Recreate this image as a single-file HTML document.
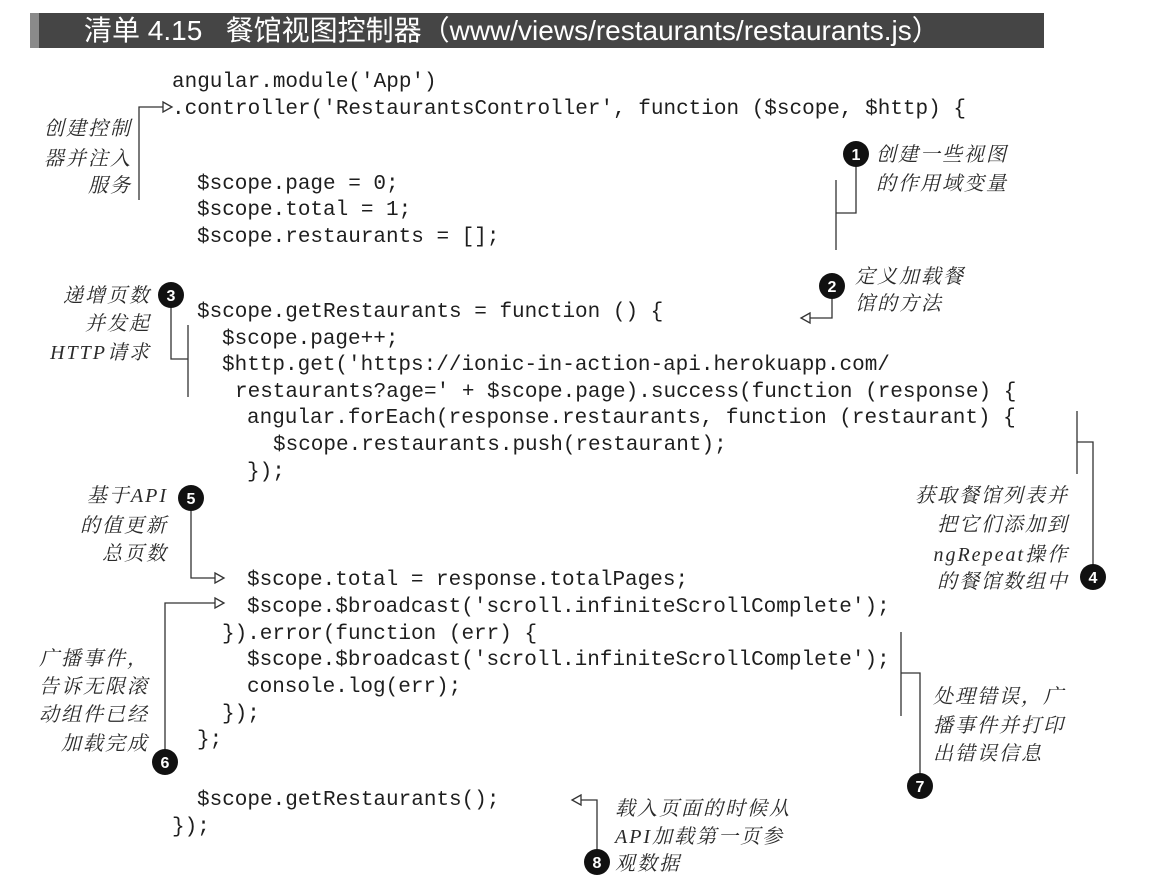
<!DOCTYPE html>
<html><head><meta charset="utf-8"><style>
html,body{margin:0;padding:0;background:#fff;}
svg{display:block;}
.c{font-family:"Liberation Mono",monospace;font-size:21px;fill:#1e1e1e;}
.h{font-family:"Liberation Serif","Noto Serif CJK SC",serif;font-size:20px;fill:#2a2a2a;font-style:italic;letter-spacing:2px;}
.n{font-family:"Liberation Sans",sans-serif;font-size:16px;font-weight:bold;fill:#fff;}
.l{stroke:#333;stroke-width:1.3;fill:none;}
.a{fill:#fff;stroke:#333;stroke-width:1.3;}
</style></head><body>
<svg width="1157" height="888" viewBox="0 0 1157 888" xmlns="http://www.w3.org/2000/svg">
<rect x="30" y="13" width="1014" height="35" fill="#454545"/>
<rect x="30" y="13" width="9" height="35" fill="#8a8a8a"/>
<text x="84" y="40" font-family="Liberation Sans,'Noto Sans CJK SC',sans-serif" font-size="28" fill="#fff" xml:space="preserve">清单 4.15   餐馆视图控制器（www/views/restaurants/restaurants.js）</text>

<g class="c" xml:space="preserve">
<text x="172" y="87">angular.module('App')</text>
<text x="172" y="114">.controller('RestaurantsController', function ($scope, $http) {</text>
<text x="197" y="189">$scope.page = 0;</text>
<text x="197" y="215">$scope.total = 1;</text>
<text x="197" y="242">$scope.restaurants = [];</text>
<text x="197" y="317">$scope.getRestaurants = function () {</text>
<text x="222" y="344">$scope.page++;</text>
<text x="222" y="370">$http.get('https://ionic-in-action-api.herokuapp.com/</text>
<text x="235" y="397">restaurants?age=' + $scope.page).success(function (response) {</text>
<text x="247" y="423">angular.forEach(response.restaurants, function (restaurant) {</text>
<text x="273" y="450">$scope.restaurants.push(restaurant);</text>
<text x="247" y="477">});</text>
<text x="247" y="585">$scope.total = response.totalPages;</text>
<text x="247" y="612">$scope.$broadcast('scroll.infiniteScrollComplete');</text>
<text x="222" y="639">}).error(function (err) {</text>
<text x="247" y="665">$scope.$broadcast('scroll.infiniteScrollComplete');</text>
<text x="247" y="692">console.log(err);</text>
<text x="222" y="719">});</text>
<text x="197" y="745">};</text>
<text x="197" y="805">$scope.getRestaurants();</text>
<text x="172" y="832">});</text>
</g>

<path class="l" d="M139 200 V107 H163"/>
<polygon class="a" points="163,102 172,107 163,112"/>
<path class="l" d="M856 160 V213 H836 M836 180 V250"/>
<path class="l" d="M832 292 V318 H810"/>
<polygon class="a" points="810,313 801,318 810,323"/>
<path class="l" d="M171 300 V359 H188 M188 325 V397"/>
<path class="l" d="M191 504 V578 H215"/>
<polygon class="a" points="215,573 224,578 215,583"/>
<path class="l" d="M165 756 V603 H215"/>
<polygon class="a" points="215,598 224,603 215,608"/>
<path class="l" d="M1093 571 V442 H1077 M1077 411 V474"/>
<path class="l" d="M920 780 V673 H901 M901 632 V716"/>
<path class="l" d="M597 856 V800 H581"/>
<polygon class="a" points="581,795 572,800 581,805"/>

<g>
<circle cx="856" cy="154" r="13" fill="#111"/><text class="n" x="856" y="160" text-anchor="middle">1</text>
<circle cx="832" cy="286" r="13" fill="#111"/><text class="n" x="832" y="292" text-anchor="middle">2</text>
<circle cx="171" cy="295" r="13" fill="#111"/><text class="n" x="171" y="301" text-anchor="middle">3</text>
<circle cx="1093" cy="577" r="13" fill="#111"/><text class="n" x="1093" y="583" text-anchor="middle">4</text>
<circle cx="191" cy="498" r="13" fill="#111"/><text class="n" x="191" y="504" text-anchor="middle">5</text>
<circle cx="165" cy="762" r="13" fill="#111"/><text class="n" x="165" y="768" text-anchor="middle">6</text>
<circle cx="920" cy="786" r="13" fill="#111"/><text class="n" x="920" y="792" text-anchor="middle">7</text>
<circle cx="597" cy="862" r="13" fill="#111"/><text class="n" x="597" y="868" text-anchor="middle">8</text>
</g>

<g class="h">
<text x="132" y="135" text-anchor="end">创建控制</text>
<text x="132" y="165" text-anchor="end">器并注入</text>
<text x="132" y="192" text-anchor="end">服务</text>
<text x="876" y="161">创建一些视图</text>
<text x="876" y="190">的作用域变量</text>
<text x="855" y="283">定义加载餐</text>
<text x="855" y="310">馆的方法</text>
<text x="151" y="302" text-anchor="end">递增页数</text>
<text x="151" y="330" text-anchor="end">并发起</text>
<text x="151" y="359" text-anchor="end">HTTP请求</text>
<text x="168" y="502" text-anchor="end">基于API</text>
<text x="168" y="532" text-anchor="end">的值更新</text>
<text x="168" y="560" text-anchor="end">总页数</text>
<text x="149" y="665" text-anchor="end">广播事件，</text>
<text x="149" y="693" text-anchor="end">告诉无限滚</text>
<text x="149" y="721" text-anchor="end">动组件已经</text>
<text x="149" y="750" text-anchor="end">加载完成</text>
<text x="1069" y="502" text-anchor="end">获取餐馆列表并</text>
<text x="1069" y="531" text-anchor="end">把它们添加到</text>
<text x="1069" y="561" text-anchor="end">ngRepeat操作</text>
<text x="1069" y="588" text-anchor="end">的餐馆数组中</text>
<text x="933" y="703">处理错误，广</text>
<text x="933" y="732">播事件并打印</text>
<text x="933" y="760">出错误信息</text>
<text x="615" y="815">载入页面的时候从</text>
<text x="615" y="843">API加载第一页参</text>
<text x="615" y="870">观数据</text>
</g>
</svg>
</body></html>
